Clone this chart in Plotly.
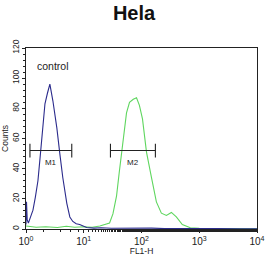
import numpy as np
import plotly.graph_objects as go

# Blue (control) histogram: x in FL1-H, y counts
blue_x = [1.0, 1.02, 1.05, 1.1, 1.2, 1.32, 1.45, 1.61, 1.75, 1.89, 2.13, 2.35, 2.59, 2.92, 3.42, 3.85, 4.34, 5.09, 5.74, 6.46, 7.4, 8.5, 11.2, 15, 20, 30, 45, 70, 100, 150, 250, 400, 700, 1000, 2000, 5000, 10000]
blue_y = [3, 18, 6, 4, 8, 12.5, 21, 32, 47, 61, 83, 90, 96, 85, 67, 50, 34, 17, 8, 5, 3.5, 3, 1, 0.6, 0.8, 0.5, 0.6, 0.4, 0.5, 0.6, 0.3, 0.4, 0.3, 0.2, 0.3, 0.2, 0.2]

# Green (Hela) histogram
green_x = [1.0, 1.5, 2.2, 3.5, 5, 7, 10, 14, 19, 24, 28, 32, 37, 41, 45, 50, 55, 62, 72, 82, 92, 104, 122, 149, 181, 221, 270, 329, 401, 509, 700, 1000, 2000, 5000, 10000]
green_y = [2, 1.2, 1.5, 1.0, 1.8, 1.2, 1.5, 1.2, 2, 3, 4, 10, 22, 37, 51, 64, 77, 84, 86, 87, 82, 73, 51, 34, 18, 10.5, 9, 11, 8, 3, 0.8, 0.5, 0.4, 0.3, 0.2]

# Markers
m1_x = [1.17, 6.2]
m2_x = [29, 174]
marker_y = 52
m1_label_x = 2.65
m2_label_x = 70

fig = go.Figure()
fig.add_trace(go.Scatter(x=green_x, y=green_y, mode="lines",
                         line=dict(color="#5fd65f", width=1.1), showlegend=False))
fig.add_trace(go.Scatter(x=blue_x, y=blue_y, mode="lines",
                         line=dict(color="#2b2b8c", width=1.1), showlegend=False))

for mx in (m1_x, m2_x):
    fig.add_trace(go.Scatter(x=mx, y=[marker_y, marker_y], mode="lines",
                             line=dict(color="#222222", width=1.1), showlegend=False))
    for xv in mx:
        fig.add_trace(go.Scatter(x=[xv, xv], y=[marker_y - 4.6, marker_y + 4.6], mode="lines",
                                 line=dict(color="#222222", width=1.1), showlegend=False))

fig.add_trace(go.Scatter(x=[m1_label_x, m2_label_x], y=[marker_y - 8, marker_y - 8],
                         mode="text", text=["M1", "M2"],
                         textfont=dict(size=8, color="#222222", family="Liberation Sans"),
                         showlegend=False))

fig.add_annotation(text="control", xref="paper", yref="paper", x=0.04, y=0.9,
                   xanchor="left", yanchor="middle", showarrow=False,
                   font=dict(size=10.5, color="#222222", family="Liberation Sans"))

tickvals = [1, 10, 100, 1000, 10000]
ticktext = ["10<sup>0</sup>", "10<sup>1</sup>", "10<sup>2</sup>", "10<sup>3</sup>", "10<sup>4</sup>"]

fig.update_layout(
    width=268, height=256,
    margin=dict(l=26, r=11, t=48, b=27),
    paper_bgcolor="white", plot_bgcolor="white",
    title=dict(text="<b>Hela</b>", x=0.5, xanchor="center", y=0.95, yanchor="middle",
               font=dict(size=20, color="#111111", family="Liberation Sans")),
    font=dict(family="Liberation Sans", color="#222222"),
)
fig.update_xaxes(type="log", range=[0, 4], tickvals=tickvals, ticktext=ticktext,
                 automargin=False,
                 showgrid=False, zeroline=False, showline=True, linecolor="#222222",
                 linewidth=1.2, mirror=True, ticks="outside", ticklen=3,
                 tickcolor="#222222", tickfont=dict(size=10),
                 minor=dict(ticks="outside", ticklen=2, tickcolor="#222222", showgrid=False),
                 title=dict(text="FL1-H", font=dict(size=8.5), standoff=0))
fig.update_yaxes(range=[0, 120], dtick=20, tickangle=-90,
                 automargin=False,
                 showgrid=False, zeroline=False, showline=True, linecolor="#222222",
                 linewidth=1.2, mirror=True, ticks="outside", ticklen=3,
                 tickcolor="#222222", tickfont=dict(size=8.5),
                 minor=dict(dtick=4, ticks="outside", ticklen=2, tickcolor="#222222", showgrid=False),
                 title=dict(text="Counts", font=dict(size=8.5), standoff=2))

fig.write_html("out.html")
